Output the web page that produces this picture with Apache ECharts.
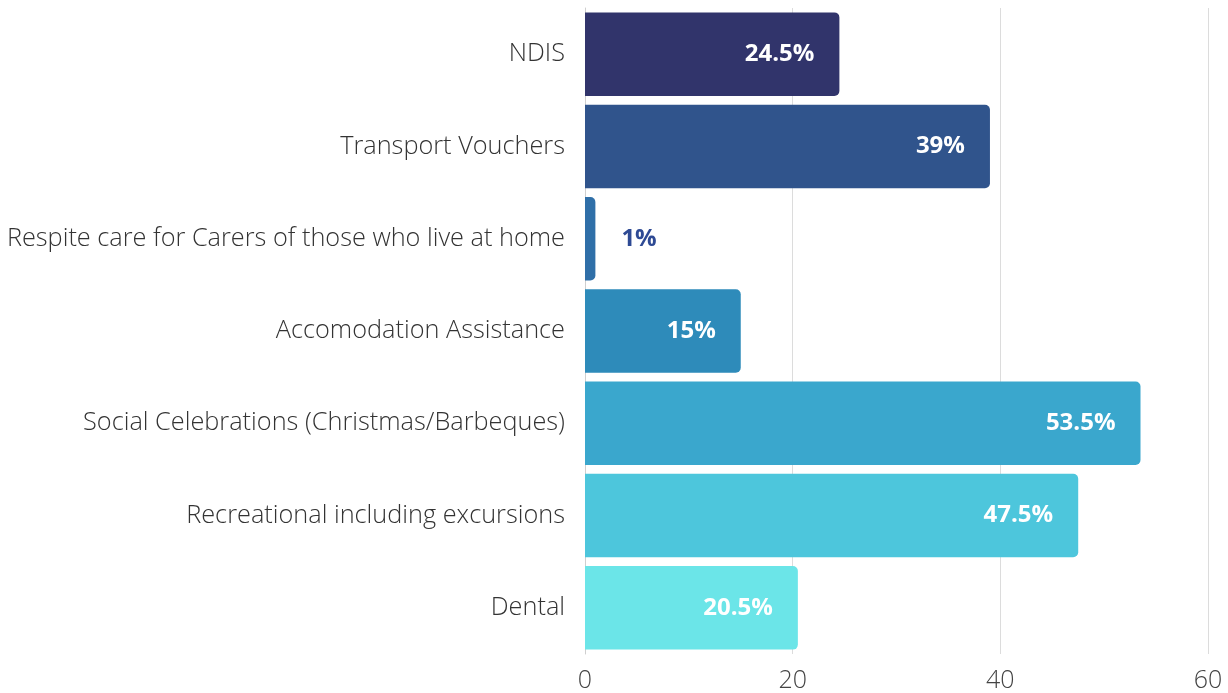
<!DOCTYPE html>
<html>
<head>
<meta charset="utf-8">
<script src="https://cdn.jsdelivr.net/npm/echarts@6/dist/echarts.min.js"></script>
<style>
html,body{margin:0;padding:0;background:#fff;}
#chart{width:1228px;height:693px;}
</style>
</head>
<body>
<div id="chart"></div>
<script>
const categories = [
  "NDIS",
  "Transport Vouchers",
  "Respite care for Carers of those who live at home",
  "Accomodation Assistance",
  "Social Celebrations (Christmas/Barbeques)",
  "Recreational including excursions",
  "Dental"
];
const values = [24.5, 39, 1, 15, 53.5, 47.5, 20.5];
const barColors = ["#31346b", "#30548c", "#2f6fa8", "#2e8bba", "#3aa7cd", "#4dc6dc", "#6be5e8"];
const xTicks = [0, 20, 40, 60];

const chart = echarts.init(document.getElementById('chart'), null, {renderer: 'canvas'});
const FONT = '"Open Sans", "Noto Sans", sans-serif';

chart.setOption({
  animation: false,
  grid: {left: 585, right: 20, top: 8, bottom: 37, containLabel: false},
  xAxis: {
    type: 'value',
    min: xTicks[0],
    max: xTicks[xTicks.length - 1],
    interval: 20,
    axisLine: {show: false},
    axisTick: {show: false},
    splitLine: {show: true, lineStyle: {color: '#dcdcdc', width: 1}},
    axisLabel: {color: '#444', fontSize: 25, fontFamily: FONT, margin: 14, fontWeight: 300}
  },
  yAxis: {
    type: 'category',
    inverse: true,
    data: categories,
    axisLine: {show: true, lineStyle: {color: '#cfcfcf', width: 1}},
    axisTick: {show: false},
    axisLabel: {color: '#333', fontSize: 25.3, fontFamily: FONT, margin: 20, fontWeight: 300, padding: [4, 0, 0, 0]}
  },
  series: [{
    type: 'bar',
    data: values.map((v, i) => ({
      value: v,
      itemStyle: {color: barColors[i]},
      label: v < 5 ? {position: 'right', distance: 26, color: '#2e4a94'} : {}
    })),
    barCategoryGap: '9.5%',
    itemStyle: {borderRadius: [0, 5, 5, 0]},
    label: {
      show: true,
      position: 'insideRight',
      distance: 25,
      color: '#ffffff',
      fontSize: 24,
      fontWeight: 'bold',
      fontFamily: FONT,
      formatter: p => p.value + '%'
    }
  }]
});
</script>
</body>
</html>
